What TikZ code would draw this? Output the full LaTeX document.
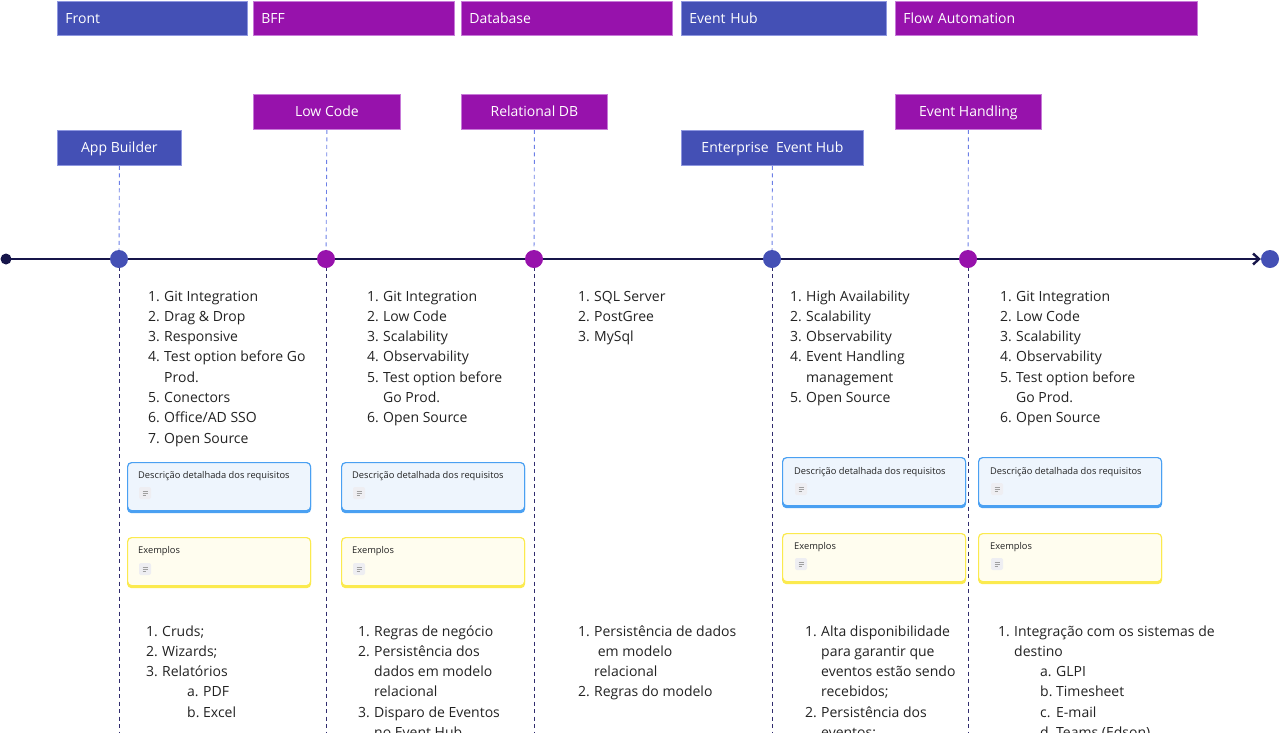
\documentclass[tikz,border=0pt]{standalone}
\usepackage{fontspec}
\setmainfont{Open Sans}
\usetikzlibrary{arrows.meta,backgrounds}
\definecolor{hblue}{HTML}{4450B5}
\definecolor{hpurp}{HTML}{9712AC}
\definecolor{hblueb}{HTML}{8E97E0}
\definecolor{hpurpb}{HTML}{C77AD8}
\definecolor{navy}{HTML}{16154A}
\definecolor{dashblue}{HTML}{6C7FE6}
\definecolor{dashnavy}{HTML}{302C6E}
\definecolor{txt}{HTML}{222222}
\definecolor{cardbl}{HTML}{EEF5FD}
\definecolor{cardblb}{HTML}{4AA0F2}
\definecolor{cardyl}{HTML}{FFFDEF}
\definecolor{cardylb}{HTML}{FBEA4E}
\definecolor{icongray}{HTML}{EEEEF2}
\newlength{\numw}\setlength{\numw}{16pt}
\newcommand{\itm}[2]{\makebox[\numw][l]{#1}#2\\}
\newcommand{\cnt}[1]{\hspace{\numw}#1\\}
\newcommand{\sitm}[3]{\hspace{#1}\makebox[\numw][l]{#2}#3\\}
\newcommand{\lst}[1]{\begin{tabular}[t]{@{}l@{}}#1\end{tabular}}
\begin{document}
\begin{tikzpicture}[x=1pt,y=-1pt,
  bar/.style={anchor=north west, minimum height=34pt, inner ysep=0pt, inner xsep=8pt,
    align=left, text=white, font=\fontsize{14}{16}\selectfont, line width=0.8pt},
  subbox/.style={anchor=north west, minimum height=35pt, inner sep=0pt, text depth=2pt,
    text=white, font=\fontsize{14}{16}\selectfont, line width=0.8pt},
  tdot/.style={circle, minimum size=18pt, inner sep=0pt},
  card/.style={anchor=north west, minimum width=183pt, rounded corners=4pt,
    line width=1.2pt, inner sep=0pt},
  bcard/.style={card, fill=cardbl, draw=cardblb,
    preaction={draw=cardblb, fill=cardblb, line width=1.2pt, transform canvas={yshift=-2pt}}},
  ycard/.style={card, fill=cardyl, draw=cardylb,
    preaction={draw=cardylb, fill=cardylb, line width=1.2pt, transform canvas={yshift=-2pt}}},
  ctitle/.style={anchor=base west, inner sep=0pt, text=txt, font=\fontsize{9.3}{11}\selectfont},
  icon/.style={minimum size=12pt, inner sep=0pt, fill=icongray, rounded corners=2pt,
    path picture={
      \draw[gray!75, line width=0.6pt]
        ([xshift=-2.5pt,yshift=2pt]path picture bounding box.center) -- ++(5,0)
        ([xshift=-2.5pt]path picture bounding box.center) -- ++(5,0)
        ([xshift=-2.5pt,yshift=-2pt]path picture bounding box.center) -- ++(3,0);}},
  listtxt/.style={anchor=base west, inner sep=0pt, text=txt, font=\fontsize{14}{20.3}\selectfont},
  dashup/.style={draw=dashblue, line width=0.9pt, dash pattern=on 4pt off 3.5pt},
  dashdn/.style={draw=dashnavy, line width=1pt, dash pattern=on 4pt off 3.5pt},
  tline/.style={draw=navy, line width=2.6pt}
]
\useasboundingbox (0,0) rectangle (1280,732);
\clip (0,0) rectangle (1280,732);

% header bars
\node[bar, fill=hblue, draw=hblueb, text width=174pt] (hfront) at (57,1) {Front};
\node[bar, fill=hpurp, draw=hpurpb, text width=185pt] (hbff) at (253,1) {BFF};
\node[bar, fill=hpurp, draw=hpurpb, text width=195pt] (hdb) at (461,1) {Database};
\node[bar, fill=hblue, draw=hblueb, text width=189pt] (hhub) at (681,1) {Event Hub};
\node[bar, fill=hpurp, draw=hpurpb, text width=286pt] (hflow) at (895,1) {Flow Automation};

% sub boxes
\node[subbox, fill=hblue, draw=hblueb, minimum width=124pt] (bapp) at (57,130) {App Builder};
\node[subbox, fill=hpurp, draw=hpurpb, minimum width=147pt] (blow) at (253,94) {Low Code};
\node[subbox, fill=hpurp, draw=hpurpb, minimum width=146pt] (brel) at (461,94) {Relational DB};
\node[subbox, fill=hblue, draw=hblueb, minimum width=182pt] (bent) at (681,130) {Enterprise\ \ Event Hub};
\node[subbox, fill=hpurp, draw=hpurpb, minimum width=146pt] (bevh) at (895,94) {Event Handling};

% timeline dots
\node[circle, minimum size=11pt, inner sep=0pt, fill=navy] (tstart) at (6,259) {};
\node[tdot, fill=hblue] (d1) at (119,259) {};
\node[tdot, fill=hpurp] (d2) at (326,259) {};
\node[tdot, fill=hpurp] (d3) at (534,259) {};
\node[tdot, fill=hblue] (d4) at (772,259) {};
\node[tdot, fill=hpurp] (d5) at (968,259) {};
\node[tdot, fill=hblue] (tend) at (1270,259) {};

\coordinate (e1) at (119,745);
\coordinate (e2) at (326,745);
\coordinate (e3) at (534,745);
\coordinate (e4) at (772,745);
\coordinate (e5) at (968,745);

\begin{scope}[on background layer]
  \draw[tline, -{Straight Barb[length=6pt,width=11pt,line width=2.4pt]}] (tstart.center) -- (tend.west);
  \draw[dashup] (bapp.south) -- (d1.center);
  \draw[dashup] (blow.south) -- (d2.center);
  \draw[dashup] (brel.south) -- (d3.center);
  \draw[dashup] (bent.south) -- (d4.center);
  \draw[dashup] (bevh.south) -- (d5.center);
  \draw[dashdn] (d1.center) -- (e1);
  \draw[dashdn] (d2.center) -- (e2);
  \draw[dashdn] (d3.center) -- (e3);
  \draw[dashdn] (d4.center) -- (e4);
  \draw[dashdn] (d5.center) -- (e5);
\end{scope}

% top lists
\node[listtxt] (l1) at (148,301) {\lst{%
  \itm{1.}{Git Integration}
  \itm{2.}{Drag \& Drop}
  \itm{3.}{Responsive}
  \itm{4.}{Test option before Go}
  \cnt{Prod.}
  \itm{5.}{Conectors}
  \itm{6.}{Office/AD SSO}
  \itm{7.}{Open Source}}};
\node[listtxt] (l2) at (367,301) {\lst{%
  \itm{1.}{Git Integration}
  \itm{2.}{Low Code}
  \itm{3.}{Scalability}
  \itm{4.}{Observability}
  \itm{5.}{Test option before}
  \cnt{Go Prod.}
  \itm{6.}{Open Source}}};
\node[listtxt] (l3) at (578,301) {\lst{%
  \itm{1.}{SQL Server}
  \itm{2.}{PostGree}
  \itm{3.}{MySql}}};
\node[listtxt] (l4) at (790,301) {\lst{%
  \itm{1.}{High Availability}
  \itm{2.}{Scalability}
  \itm{3.}{Observability}
  \itm{4.}{Event Handling}
  \cnt{management}
  \itm{5.}{Open Source}}};
\node[listtxt] (l5) at (1000,301) {\lst{%
  \itm{1.}{Git Integration}
  \itm{2.}{Low Code}
  \itm{3.}{Scalability}
  \itm{4.}{Observability}
  \itm{5.}{Test option before}
  \cnt{Go Prod.}
  \itm{6.}{Open Source}}};

% cards
\node[bcard, minimum height=48pt] (c1a) at (127,462) {};
\node[ycard, minimum height=48pt] (c1b) at (127,537) {};
\node[bcard, minimum height=48pt] (c2a) at (341,462) {};
\node[ycard, minimum height=48pt] (c2b) at (341,537) {};
\node[bcard, minimum height=48pt] (c4a) at (782,457) {};
\node[ycard, minimum height=48pt] (c4b) at (782,533) {};
\node[bcard, minimum height=48pt] (c5a) at (978,457) {};
\node[ycard, minimum height=48pt] (c5b) at (978,533) {};

\node[ctitle] (t1a) at (138,478) {Descrição detalhada dos requisitos};
\node[ctitle] (t1b) at (138,553) {Exemplos};
\node[ctitle] (t2a) at (352,478) {Descrição detalhada dos requisitos};
\node[ctitle] (t2b) at (352,553) {Exemplos};
\node[ctitle] (t4a) at (794,474) {Descrição detalhada dos requisitos};
\node[ctitle] (t4b) at (794,549) {Exemplos};
\node[ctitle] (t5a) at (990,474) {Descrição detalhada dos requisitos};
\node[ctitle] (t5b) at (990,549) {Exemplos};

\node[icon] (i1a) at (145,493) {};
\node[icon] (i1b) at (145,569) {};
\node[icon] (i2a) at (359,493) {};
\node[icon] (i2b) at (359,569) {};
\node[icon] (i4a) at (801,489) {};
\node[icon] (i4b) at (801,564) {};
\node[icon] (i5a) at (997,489) {};
\node[icon] (i5b) at (997,564) {};

% bottom lists
\node[listtxt] (b1) at (146,636) {\lst{%
  \itm{1.}{Cruds;}
  \itm{2.}{Wizards;}
  \itm{3.}{Relatórios}
  \sitm{41pt}{a.}{PDF}
  \sitm{41pt}{b.}{Excel}}};
\node[listtxt] (b2) at (358,636) {\lst{%
  \itm{1.}{Regras de negócio}
  \itm{2.}{Persistência dos}
  \cnt{dados em modelo}
  \cnt{relacional}
  \itm{3.}{Disparo de Eventos}
  \cnt{no Event Hub}}};
\node[listtxt] (b3) at (578,636) {\lst{%
  \itm{1.}{Persistência de dados}
  \cnt{\ em modelo}
  \cnt{relacional}
  \itm{2.}{Regras do modelo}}};
\node[listtxt] (b4) at (805,636) {\lst{%
  \itm{1.}{Alta disponibilidade}
  \cnt{para garantir que}
  \cnt{eventos estão sendo}
  \cnt{recebidos;}
  \itm{2.}{Persistência dos}
  \cnt{eventos;}}};
\node[listtxt] (b5) at (998,636) {\lst{%
  \itm{1.}{Integração com os sistemas de}
  \cnt{destino}
  \sitm{42pt}{a.}{GLPI}
  \sitm{42pt}{b.}{Timesheet}
  \sitm{42pt}{c.}{E-mail}
  \sitm{42pt}{d.}{Teams (Edson)}}};
\end{tikzpicture}
\end{document}
